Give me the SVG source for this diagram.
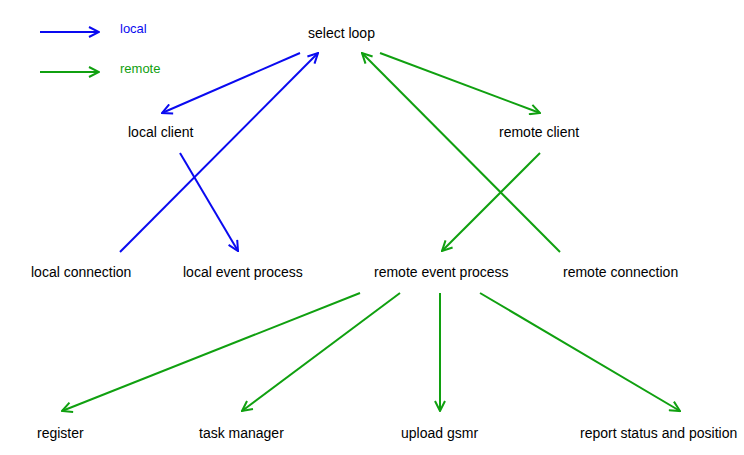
<svg xmlns="http://www.w3.org/2000/svg" width="744" height="455" viewBox="0 0 744 455">
<style>
text{font-family:"Liberation Sans",Arial,sans-serif;font-size:14px;fill:#000}
.b{stroke:#0a0af0;stroke-width:2;fill:none}
.g{stroke:#10a010;stroke-width:2;fill:none}
</style>
<defs>
<marker id="ab" viewBox="0 0 12 12" refX="11" refY="6" markerWidth="12" markerHeight="12" markerUnits="userSpaceOnUse" orient="auto"><path d="M1,1 L11,6 L1,11" fill="none" stroke="#0a0af0" stroke-width="2"/></marker>
<marker id="ag" viewBox="0 0 12 12" refX="11" refY="6" markerWidth="12" markerHeight="12" markerUnits="userSpaceOnUse" orient="auto"><path d="M1,1 L11,6 L1,11" fill="none" stroke="#10a010" stroke-width="2"/></marker>
</defs>
<rect width="744" height="455" fill="#fff"/>
<g id="legend">
<line class="b" x1="40" y1="32" x2="99" y2="32" marker-end="url(#ab)"/>
<text x="120" y="33" style="fill:#0a0af0;font-size:13px">local</text>
<line class="g" x1="40" y1="72" x2="99" y2="72" marker-end="url(#ag)"/>
<text x="120" y="73" style="fill:#10a010;font-size:13px">remote</text>
</g>
<g id="connectors">
<line class="b" x1="300" y1="53" x2="162" y2="113" marker-end="url(#ab)"/>
<line class="b" x1="120" y1="252" x2="318" y2="53" marker-end="url(#ab)"/>
<line class="b" x1="180" y1="153" x2="238" y2="251" marker-end="url(#ab)"/>
<line class="g" x1="380" y1="53" x2="540" y2="113" marker-end="url(#ag)"/>
<line class="g" x1="540" y1="153" x2="442" y2="251" marker-end="url(#ag)"/>
<line class="g" x1="560" y1="252" x2="362" y2="53" marker-end="url(#ag)"/>
<line class="g" x1="360" y1="293" x2="62" y2="411" marker-end="url(#ag)"/>
<line class="g" x1="400" y1="293" x2="242" y2="411" marker-end="url(#ag)"/>
<line class="g" x1="440" y1="293" x2="440" y2="411" marker-end="url(#ag)"/>
<line class="g" x1="480" y1="293" x2="680" y2="411" marker-end="url(#ag)"/>
</g>
<g id="select-loop"><text x="308" y="38">select loop</text></g>
<g id="local-client"><text x="128" y="137">local client</text></g>
<g id="remote-client"><text x="499" y="137">remote client</text></g>
<g id="local-connection"><text x="31" y="277">local connection</text></g>
<g id="local-event-process"><text x="183" y="277">local event process</text></g>
<g id="remote-event-process"><text x="374" y="277">remote event process</text></g>
<g id="remote-connection"><text x="563" y="277">remote connection</text></g>
<g id="register"><text x="37" y="438">register</text></g>
<g id="task-manager"><text x="199" y="438">task manager</text></g>
<g id="upload-gsmr"><text x="401" y="438">upload gsmr</text></g>
<g id="report-status"><text x="580" y="438">report status and position</text></g>
</svg>
